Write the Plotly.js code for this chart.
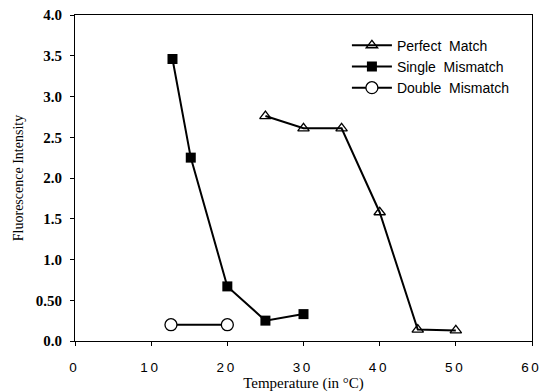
<!DOCTYPE html>
<html><head><meta charset="utf-8">
<script src="https://cdn.plot.ly/plotly-3.0.1.min.js"></script>
<style>html,body{margin:0;padding:0;background:#fff}#chart{width:540px;height:392px}</style>
</head><body><div id="chart"></div>
<script>
var perfectX = [25, 30, 35, 40, 45, 50];
var perfectY = [2.76, 2.61, 2.61, 1.58, 0.14, 0.13];
var singleX = [12.8, 15.2, 20, 25, 30];
var singleY = [3.46, 2.25, 0.67, 0.25, 0.33];
var doubleX = [12.6, 20];
var doubleY = [0.20, 0.20];
var xTickVals = [0, 10, 20, 30, 40, 50, 60];
var xTickText = ['0', '1\u20090', '2\u20090', '3\u20090', '4\u20090', '5\u20090', '6\u20090'];
var yTickVals = [0, 0.5, 1.0, 1.5, 2.0, 2.5, 3.0, 3.5, 4.0];
var yTickText = ['0.0', '0.50', '1.0', '1.5', '2.0', '2.5', '3.0', '3.5', '4.0'];

var traces = [
  {x: perfectX, y: perfectY, name: 'Perfect  Match', mode: 'lines+markers',
   line: {color: '#000', width: 2},
   marker: {symbol: 'triangle-up-open', size: 10, color: '#000', line: {width: 1.3}}},
  {x: singleX, y: singleY, name: 'Single  Mismatch', mode: 'lines+markers',
   line: {color: '#000', width: 2},
   marker: {symbol: 'square', size: 10, color: '#000'}},
  {x: doubleX, y: doubleY, name: 'Double  Mismatch', mode: 'lines+markers',
   line: {color: '#000', width: 2},
   marker: {symbol: 'circle', size: 12, color: '#fff', line: {color: '#000', width: 1.3}}}
];

var layout = {
  width: 540, height: 392,
  margin: {l: 75, r: 8, t: 15, b: 51},
  paper_bgcolor: '#fff', plot_bgcolor: '#fff',
  showlegend: true,
  legend: {x: 0.595, y: 0.955, xanchor: 'left', yanchor: 'top',
    bgcolor: 'rgba(0,0,0,0)', itemwidth: 40, tracegroupgap: 0,
    font: {family: 'Liberation Sans, Arial, sans-serif', size: 14, color: '#000'}},
  xaxis: {range: [0, 60], tickmode: 'array', tickvals: xTickVals, ticktext: xTickText,
    showgrid: false, zeroline: false, showline: true, mirror: true,
    linecolor: '#000', linewidth: 1, ticks: 'outside', ticklen: 4, tickcolor: '#000',
    ticklabelstandoff: 10, ticklabeloverflow: 'allow', ticklabelshift: -2,
    tickfont: {family: 'Liberation Sans, Arial, sans-serif', size: 13.5, color: '#000'},
    title: {text: 'Temperature (in °C)', standoff: 5,
      font: {family: 'Liberation Serif, Times New Roman, serif', size: 15, color: '#000'}}},
  yaxis: {range: [0, 4.0], tickmode: 'array', tickvals: yTickVals, ticktext: yTickText,
    showgrid: false, zeroline: false, showline: true, mirror: true,
    linecolor: '#000', linewidth: 1, ticks: 'outside', ticklen: 4, tickcolor: '#000',
    ticklabelstandoff: 5,
    tickfont: {family: 'Liberation Serif, Times New Roman, serif', size: 15, color: '#000', weight: 'bold'},
    title: {text: 'Fluorescence Intensity', standoff: 8,
      font: {family: 'Liberation Serif, Times New Roman, serif', size: 14, color: '#000'}}}
};

Plotly.newPlot('chart', traces, layout, {displayModeBar: false, staticPlot: true});
</script></body></html>
